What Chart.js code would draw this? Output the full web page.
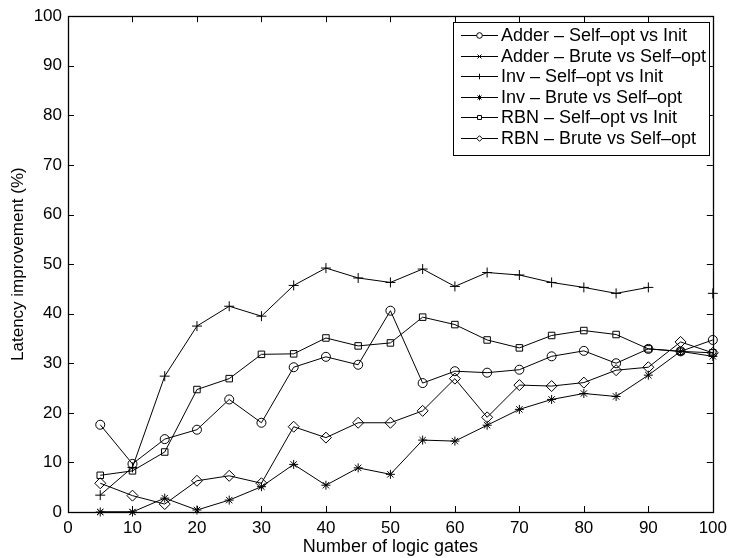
<!DOCTYPE html>
<html>
<head>
<meta charset="utf-8">
<script src="https://cdn.jsdelivr.net/npm/chart.js@4.4.1/dist/chart.umd.min.js"></script>
<style>
  html, body { margin: 0; padding: 0; background: #fff; }
  #wrap { width: 733px; height: 558px; }
</style>
</head>
<body>
<div id="wrap"><canvas id="gatesChart"></canvas></div>
<script>
const gates = [5, 10, 15, 20, 25, 30, 35, 40, 45, 50, 55, 60, 65, 70, 75, 80, 85, 90, 95, 100];
const seriesNames = [
  "Adder \u2013 Self\u2013opt vs Init",
  "Adder \u2013 Brute vs Self\u2013opt",
  "Inv \u2013 Self\u2013opt vs Init",
  "Inv \u2013 Brute vs Self\u2013opt",
  "RBN \u2013 Self\u2013opt vs Init",
  "RBN \u2013 Brute vs Self\u2013opt"
];
const adderSelf = [17.6, 9.7, 14.7, 16.6, 22.7, 18.0, 29.2, 31.3, 29.7, 40.6, 26.0, 28.4, 28.1, 28.7, 31.4, 32.5, 30.0, 32.9, 32.4, 34.7];
const adderBrute = [0, 0, null, null, null, null, null, null, null, null, null, null, null, null, null, null, null, null, null, null];
const invSelf = [3.4, 9.0, 27.4, 37.5, 41.5, 39.5, 45.7, 49.2, 47.2, 46.3, 49.0, 45.5, 48.3, 47.8, 46.3, 45.3, 44.1, 45.3, null, 44.1];
const invBrute = [0, 0, 2.8, 0.4, 2.4, 5.1, 9.6, 5.4, 8.9, 7.6, 14.5, 14.3, 17.5, 20.7, 22.7, 23.9, 23.3, 27.6, 32.4, 31.4];
const rbnSelf = [7.4, 8.3, 12.1, 24.7, 26.9, 31.8, 31.9, 35.1, 33.5, 34.1, 39.3, 37.8, 34.7, 33.1, 35.6, 36.6, 35.8, 32.9, 32.4, 32.1];
const rbnBrute = [5.8, 3.3, 1.6, 6.3, 7.3, 5.8, 17.2, 15.0, 18.0, 18.0, 20.4, 26.9, 19.1, 25.6, 25.4, 26.1, 28.6, 29.2, 34.3, 32.1];
const xTicks = [0, 10, 20, 30, 40, 50, 60, 70, 80, 90, 100];
const yTicks = [0, 10, 20, 30, 40, 50, 60, 70, 80, 90, 100];

const FONT = "'Liberation Sans', Arial, Helvetica, sans-serif";
const markers = ["circle", "crossRot", "cross", "star", "rect", "rectRot"];
const markerSize = [4.5, 4, 5, 4.5, 4.6, 5.5];

function makeSet(i, values) {
  return {
    label: seriesNames[i],
    data: values.map((v, k) => ({ x: gates[k], y: v })),
    borderColor: "#000",
    borderWidth: 1,
    backgroundColor: "rgba(0,0,0,0)",
    pointStyle: markers[i],
    pointRadius: markerSize[i],
    pointBorderWidth: 1,
    pointBorderColor: "#000",
    pointBackgroundColor: "rgba(0,0,0,0)",
    tension: 0,
    spanGaps: false,
    clip: false
  };
}

// inward ticks + box, matlab style
const frame = {
  id: "frame",
  afterDatasetsDraw(chart) {
    const { ctx, chartArea: a, scales: { x, y } } = chart;
    ctx.save();
    ctx.strokeStyle = "#000";
    ctx.lineWidth = 1;
    ctx.beginPath();
    xTicks.forEach(v => {
      const px = Math.round(x.getPixelForValue(v)) + 0.5;
      ctx.moveTo(px, a.bottom); ctx.lineTo(px, a.bottom - 6);
      ctx.moveTo(px, a.top); ctx.lineTo(px, a.top + 6);
    });
    yTicks.forEach(v => {
      const py = Math.round(y.getPixelForValue(v)) + 0.5;
      ctx.moveTo(a.left, py); ctx.lineTo(a.left + 6, py);
      ctx.moveTo(a.right, py); ctx.lineTo(a.right - 6, py);
    });
    ctx.stroke();
    ctx.lineWidth = 1.3;
    ctx.strokeRect(Math.round(a.left) + 0.5, Math.round(a.top) + 0.5,
      Math.round(a.right - a.left), Math.round(a.bottom - a.top));
    ctx.restore();
  },
  afterDraw(chart) {
    const ctx = chart.ctx;
    const bx = 453, by = 22, bw = 256, bh = 133;
    ctx.save();
    ctx.fillStyle = "#fff";
    ctx.fillRect(bx, by, bw, bh);
    ctx.strokeStyle = "#000";
    ctx.lineWidth = 1;
    ctx.strokeRect(bx + 0.5, by + 0.5, bw, bh);
    ctx.font = "18px " + FONT;
    ctx.textBaseline = "middle";
    chart.data.datasets.forEach((ds, i) => {
      const ry = Math.round(by + 13 + i * 20.5) + 0.5;
      ctx.beginPath();
      ctx.moveTo(461, ry); ctx.lineTo(498, ry);
      ctx.stroke();
      ctx.fillStyle = "#fff";
      Chart.helpers.drawPoint(ctx, {
        pointStyle: ds.pointStyle, radius: 2.8, borderWidth: 1, rotation: 0
      }, 479.5, ry);
      ctx.fillStyle = "#000";
      ctx.fillText(ds.label, 501, ry + 1);
    });
    ctx.restore();
  }
};

const chartData = {
  datasets: [
    makeSet(0, adderSelf),
    makeSet(1, adderBrute),
    makeSet(2, invSelf),
    makeSet(3, invBrute),
    makeSet(4, rbnSelf),
    makeSet(5, rbnBrute)
  ]
};

new Chart(document.getElementById("gatesChart"), {
  type: "line",
  data: chartData,
  options: {
    responsive: true,
    maintainAspectRatio: false,
    animation: false,
    layout: { padding: { top: 15, right: 18, left: 0, bottom: 0 } },
    plugins: { legend: { display: false }, tooltip: { enabled: false } },
    scales: {
      x: {
        type: "linear",
        min: 0, max: 100,
        afterFit(scale) { scale.height = 46; },
        afterBuildTicks(scale) { scale.ticks = xTicks.map(v => ({ value: v })); },
        grid: { drawOnChartArea: false, drawTicks: false },
        border: { display: false },
        ticks: { color: "#000", padding: 6, font: { family: FONT, size: 17 }, maxRotation: 0 },
        title: { display: true, text: "Number of logic gates", color: "#000", padding: { top: 0, bottom: 0 }, font: { family: FONT, size: 18 } }
      },
      y: {
        min: 0, max: 100,
        afterFit(scale) { scale.width = 68; },
        afterBuildTicks(scale) { scale.ticks = yTicks.map(v => ({ value: v })); },
        grid: { drawOnChartArea: false, drawTicks: false },
        border: { display: false },
        ticks: { color: "#000", padding: 6, font: { family: FONT, size: 17 } },
        title: { display: true, text: "Latency improvement (%)", color: "#000", padding: { top: 8, bottom: 0 }, font: { family: FONT, size: 17 } }
      }
    }
  },
  plugins: [frame]
});
</script>
</body>
</html>
